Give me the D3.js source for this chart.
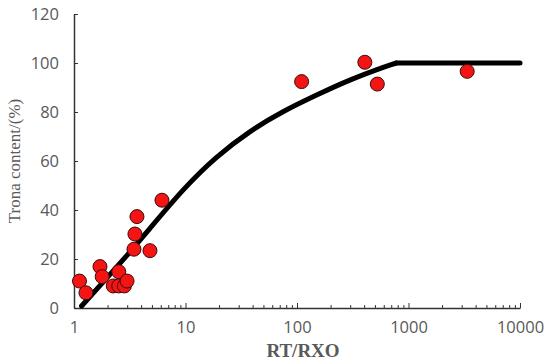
<!DOCTYPE html>
<html>
<head>
<meta charset="utf-8">
<script src="https://cdn.jsdelivr.net/npm/d3@7"></script>
<style>
  body { margin: 0; background: #fff; }
  svg { display: block; }
</style>
</head>
<body>
<svg id="chart"></svg>
<script>
// measured points
const ratioRT = [1.12, 1.28, 1.71, 1.79, 2.25, 2.52, 2.52, 2.83, 2.99, 3.45, 3.52, 3.67, 4.8, 6.15, 110, 406, 525, 3360];
const tronaPct = [11, 6.2, 16.9, 12.8, 9, 14.8, 9, 9, 11, 24, 30.2, 37.3, 23.4, 44, 92.4, 100.3, 91.4, 96.6];

// fitted curve (rising part, then a flat plateau)
const fitX = [1.17, 2, 3, 4.8, 9.55, 19, 38, 75, 150, 298, 593, 779];
const fitY = [0.8, 12.6, 21.6, 32.5, 48.2, 61.5, 72, 80.1, 86.9, 93, 98.2, 100];
const plateauX = [779, 10000];
const plateauY = [100, 100];

const xTicks = [1, 10, 100, 1000, 10000];
const yTicks = [0, 20, 40, 60, 80, 100, 120];

const width = 550, height = 364;
const margin = { top: 14, right: 30, bottom: 56, left: 74 };

const svg = d3.select("#chart")
    .attr("width", width)
    .attr("height", height);

const x = d3.scaleLog()
    .domain([1, 10000])
    .range([margin.left, width - margin.right]);

const y = d3.scaleLinear()
    .domain([0, 120])
    .range([height - margin.bottom, margin.top]);

const labelFont = "'Open Sans', 'Noto Sans', sans-serif";
const grey = "#595959";

// minor ticks on the log axis
const minorTicks = [];
for (let d = 1; d < 10000; d *= 10) {
    for (let k = 2; k <= 9; k++) minorTicks.push(d * k);
}

svg.append("g")
    .attr("transform", `translate(0,${y(0)})`)
    .call(d3.axisBottom(x).tickValues(minorTicks).tickSize(-3).tickFormat(""))
    .call(g => g.select(".domain").remove())
    .selectAll("line").attr("stroke", "#333");

const xAxis = svg.append("g")
    .attr("transform", `translate(0,${y(0)})`)
    .call(d3.axisBottom(x).tickValues(xTicks).tickSizeInner(-5).tickSizeOuter(0).tickPadding(13).tickFormat(d3.format("d")));
xAxis.select(".domain").attr("stroke", "#333").attr("stroke-width", 1.5);
xAxis.selectAll("line").attr("stroke", "#333");
xAxis.selectAll("text")
    .attr("font-family", labelFont)
    .attr("font-size", 16.5)
    .attr("fill", grey);

const yAxis = svg.append("g")
    .attr("transform", `translate(${x(1)},0)`)
    .call(d3.axisLeft(y).tickValues(yTicks).tickSizeInner(-4).tickSizeOuter(0).tickPadding(15));
yAxis.select(".domain").attr("stroke", "#333").attr("stroke-width", 1.5);
yAxis.selectAll("line").attr("stroke", "#333");
yAxis.selectAll("text")
    .attr("font-family", labelFont)
    .attr("font-size", 16.5)
    .attr("fill", grey);

// axis titles
svg.append("text")
    .attr("transform", `translate(20,${(y(0) + y(120)) / 2}) rotate(-90)`)
    .attr("text-anchor", "middle")
    .attr("font-family", "'Liberation Serif', serif")
    .attr("font-size", 17)
    .attr("fill", grey)
    .text("Trona content/(%)");

svg.append("text")
    .attr("x", 303)
    .attr("y", 357)
    .attr("text-anchor", "middle")
    .attr("font-family", "'Liberation Serif', serif")
    .attr("font-weight", "bold")
    .attr("font-size", 19)
    .attr("fill", grey)
    .text("RT/RXO");

// fit line
const rise = d3.line()
    .x((d, i) => x(fitX[i]))
    .y(d => y(d))
    .curve(d3.curveNatural);

const flat = d3.line()
    .x((d, i) => x(plateauX[i]))
    .y(d => y(d));

svg.append("path")
    .datum(fitY)
    .attr("fill", "none")
    .attr("stroke", "#000")
    .attr("stroke-width", 5)
    .attr("stroke-linecap", "round")
    .attr("d", rise);

svg.append("path")
    .datum(plateauY)
    .attr("fill", "none")
    .attr("stroke", "#000")
    .attr("stroke-width", 5)
    .attr("stroke-linecap", "round")
    .attr("d", flat);

// points
svg.append("g")
    .selectAll("circle")
    .data(ratioRT)
    .join("circle")
    .attr("cx", d => x(d))
    .attr("cy", (d, i) => y(tronaPct[i]))
    .attr("r", 7)
    .attr("fill", "#f41414")
    .attr("stroke", "#3a0a0a")
    .attr("stroke-width", 1);
</script>
</body>
</html>
